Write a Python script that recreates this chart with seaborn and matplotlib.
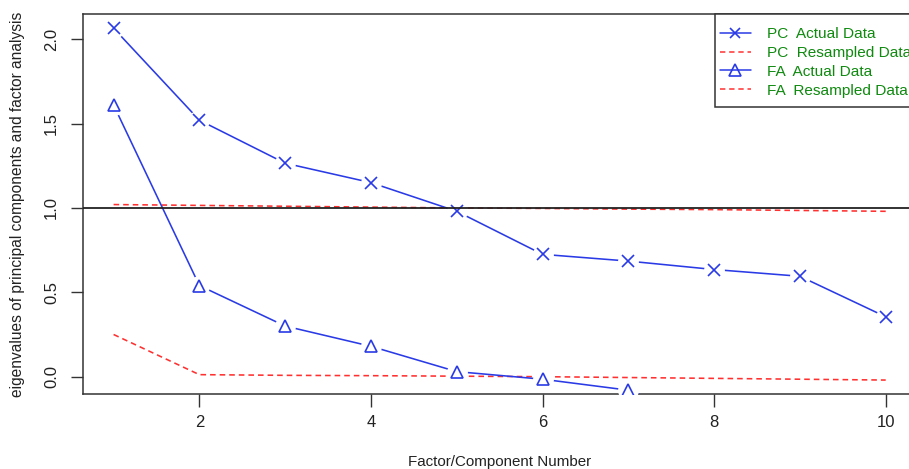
import numpy as np
import pandas as pd
import matplotlib
matplotlib.use("Agg")
import matplotlib.pyplot as plt
import seaborn as sns
from matplotlib.lines import Line2D
from matplotlib.patches import Rectangle

# ---- data ----
factors = [1, 2, 3, 4, 5, 6, 7, 8, 9, 10]
pc_actual = [2.065, 1.52, 1.265, 1.15, 0.98, 0.725, 0.685, 0.635, 0.595, 0.355]
pc_resampled = [1.02, 1.015, 1.01, 1.005, 1.0, 0.997, 0.993, 0.99, 0.985, 0.98]
fa_actual = [1.61, 0.54, 0.30, 0.18, 0.03, -0.015, -0.08, -0.28, -0.35, -0.42]
fa_resampled = [0.25, 0.012, 0.008, 0.006, 0.003, 0.0, -0.005, -0.01, -0.015, -0.02]
legend_labels = ["PC  Actual Data", "PC  Resampled Data", "FA  Actual Data", "FA  Resampled Data"]
xticks = [2, 4, 6, 8, 10]
yticks = [0.0, 0.5, 1.0, 1.5, 2.0]

sns.set_style("white")
plt.rcParams['font.family'] = ['Liberation Sans', 'DejaVu Sans']

BLUE = "#2a3be6"
RED = "#ff3030"
GREEN = "#0f8a0f"
W, H = 909, 469

fig = plt.figure(figsize=(9.09, 4.69), dpi=100)
ax = fig.add_axes([82.7 / W, 1 - 394.3 / H, (916.6 - 82.7) / W, (394.3 - 14) / H])

df = pd.DataFrame({"x": factors, "pc": pc_actual, "pcr": pc_resampled,
                   "fa": fa_actual, "far": fa_resampled})

DASH = (0, (3.5, 2.5))
# resampled (dashed red)
sns.lineplot(data=df, x="x", y="pcr", ax=ax, color=RED, lw=1.15, linestyle=DASH, zorder=2)
sns.lineplot(data=df, x="x", y="far", ax=ax, color=RED, lw=1.15, linestyle=DASH, zorder=2)

# actual data (type="b" style: line with gaps around points)
for col, mk in [("pc", "x"), ("fa", "^")]:
    sns.lineplot(data=df, x="x", y=col, ax=ax, color=BLUE, lw=1.15, zorder=3)
    ax.plot(df["x"], df[col], linestyle="none", marker="o", ms=15, mfc="white",
            mec="none", zorder=4)
    if mk == "x":
        ax.plot(df["x"], df[col], linestyle="none", marker="x", ms=8.5, mew=1.2,
                color=BLUE, zorder=5)
    else:
        ax.plot(df["x"], df[col], linestyle="none", marker="^", ms=9, mew=1.2,
                mfc="none", mec=BLUE, zorder=5)

ax.axhline(1.0, color="#222222", lw=1.3, zorder=6)

ax.set_xlim(0.64, 10.36)
ax.set_ylim(-0.1044, 2.1492)
ax.set_xticks(xticks)
ax.set_xticklabels([str(t) for t in xticks])
ax.set_yticks(yticks)
ax.set_yticklabels([f"{t:.1f}" for t in yticks], rotation=90, va="center")
ax.tick_params(axis="both", direction="out", length=9, width=1, color="#333333",
               labelsize=12, labelcolor="#222222", left=True, bottom=True)
ax.tick_params(axis="x", pad=6)
ax.tick_params(axis="y", pad=8)

for s in ax.spines.values():
    s.set_color("#333333")
    s.set_linewidth(1.1)

ax.set_xlabel("Factor/Component Number", fontsize=10.9, color="#222222")
ax.set_ylabel("eigenvalues of principal components and factor analysis", fontsize=11.2,
              color="#222222")
ax.xaxis.set_label_coords(0.5, -(462 - 394.3) / (394.3 - 14), transform=ax.transAxes)
ax.xaxis.label.set_va("center")
ax.yaxis.set_label_coords(-(82.7 - 18) / (916.6 - 82.7), 0.5)
ax.yaxis.label.set_va("center")

# legend frame (R-style box in the top-right corner)
fig.patches.append(Rectangle((715 / W, 1 - 107 / H), 0.5, (107 - 14) / H,
                             transform=fig.transFigure, fill=True, facecolor="white",
                             edgecolor="#333333", lw=1.1, zorder=9))

handles = [
    Line2D([], [], color=BLUE, lw=1.1, marker="x", ms=7, mew=1.2),
    Line2D([], [], color=RED, lw=1.1, linestyle=DASH),
    Line2D([], [], color=BLUE, lw=1.1, marker="^", ms=8, mew=1.2, mfc="none"),
    Line2D([], [], color=RED, lw=1.1, linestyle=DASH),
]
leg = fig.legend(handles, legend_labels, loc="upper left",
                 bbox_to_anchor=(720 / W, 1 - 27 / H), bbox_transform=fig.transFigure,
                 frameon=False, fontsize=11.1, handlelength=2.0,
                 handletextpad=1.05, labelspacing=0.32, borderpad=0, borderaxespad=0)
for t in leg.get_texts():
    t.set_color(GREEN)
leg.set_zorder(10)

fig.savefig("out.png", dpi=100)
